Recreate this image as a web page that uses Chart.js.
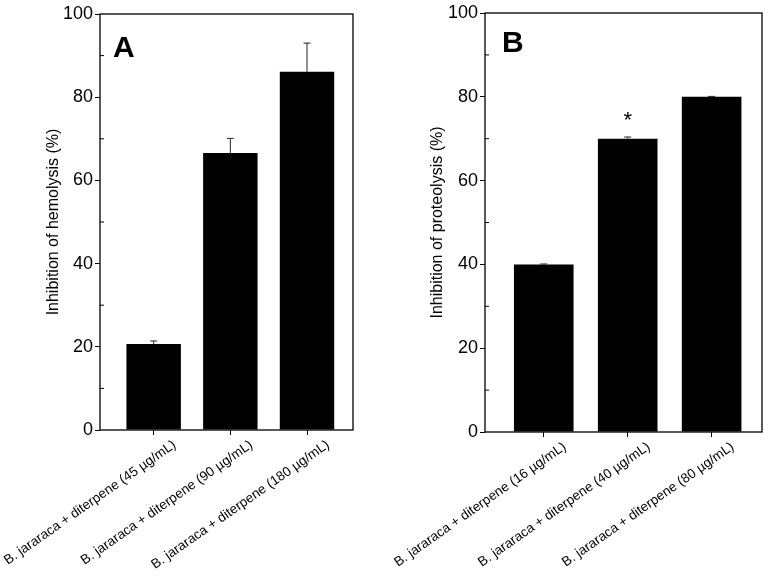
<html>
<head>
<meta charset="UTF-8">
<title>Inhibition of hemolysis and proteolysis</title>
<script src="https://cdn.jsdelivr.net/npm/chart.js"></script>
<style>
  body { margin: 0; background: #fff; }
  #wrap { position: relative; width: 768px; height: 578px; }
  canvas { position: absolute; top: 0; }
</style>
</head>
<body>
<div id="wrap">
  <canvas id="chartA" width="384" height="578" style="left:0px"></canvas>
  <canvas id="chartB" width="404" height="578" style="left:364px"></canvas>
</div>

<script>
// bar positions on the x axis
const xPos = [1, 2, 3];

// panel A - hemolysis
const labelsA = [
  'B. jararaca + diterpene (45 µg/mL)',
  'B. jararaca + diterpene (90 µg/mL)',
  'B. jararaca + diterpene (180 µg/mL)'
];
const hemolysis = [20.7, 66.6, 86.1];
const hemolysisErr = [0.7, 3.5, 6.9];

// panel B - proteolysis
const labelsB = [
  'B. jararaca + diterpene (16 µg/mL)',
  'B. jararaca + diterpene (40 µg/mL)',
  'B. jararaca + diterpene (80 µg/mL)'
];
const proteolysis = [40.0, 70.0, 80.0];
const proteolysisErr = [0.1, 0.4, 0.1];
const marksB = ['', '*', ''];

// y axis ticks
const yMajor = [0, 20, 40, 60, 80, 100];
const yMinor = [10, 30, 50, 70, 90];

const FONT = "'Liberation Sans', Arial, sans-serif";
Chart.defaults.font.family = FONT;
Chart.defaults.color = '#000';

// frame, minor ticks, error bars, significance marks and panel letter
function panelPlugin(p) {
  return {
    id: 'panel' + p.letter,
    afterDatasetsDraw(chart) {
      const ctx = chart.ctx;
      const area = chart.chartArea;
      const ys = chart.scales.y;
      const meta = chart.getDatasetMeta(0);
      ctx.save();

      // error bars (upper whisker only)
      ctx.strokeStyle = '#222';
      ctx.lineWidth = 1;
      meta.data.forEach((bar, i) => {
        const top = ys.getPixelForValue(p.values[i] + p.errors[i]);
        const base = ys.getPixelForValue(p.values[i]);
        ctx.beginPath();
        ctx.moveTo(bar.x, base);
        ctx.lineTo(bar.x, top);
        ctx.moveTo(bar.x - 3.5, top);
        ctx.lineTo(bar.x + 3.5, top);
        ctx.stroke();
      });

      // significance marks
      if (p.marks) {
        ctx.fillStyle = '#000';
        ctx.font = '22px ' + FONT;
        ctx.textAlign = 'center';
        ctx.textBaseline = 'alphabetic';
        meta.data.forEach((bar, i) => {
          if (!p.marks[i]) return;
          const top = ys.getPixelForValue(p.values[i] + p.errors[i]);
          ctx.fillText(p.marks[i], bar.x, top - 10);
        });
      }

      // frame
      ctx.strokeStyle = '#000';
      ctx.lineWidth = 1.3;
      ctx.strokeRect(area.left, area.top, area.right - area.left, area.bottom - area.top);

      // minor ticks inside
      ctx.lineWidth = 1;
      ctx.beginPath();
      yMinor.forEach(v => {
        const y = ys.getPixelForValue(v);
        ctx.moveTo(area.left, y);
        ctx.lineTo(area.left + 4, y);
      });
      ctx.stroke();

      // panel letter
      ctx.fillStyle = '#000';
      ctx.font = 'bold 30px ' + FONT;
      ctx.textAlign = 'left';
      ctx.textBaseline = 'alphabetic';
      ctx.fillText(p.letter, area.left + p.letterDx, area.top + p.letterDy);
      ctx.restore();
    }
  };
}

function makePanel(id, p) {
  const ctx = document.getElementById(id).getContext('2d');
  return new Chart(ctx, {
    type: 'bar',
    data: {
      datasets: [{
        data: xPos.map((x, i) => ({ x: x, y: p.values[i] })),
        backgroundColor: '#000',
        borderWidth: 0,
        barPercentage: 0.71,
        categoryPercentage: 1
      }]
    },
    options: {
      responsive: false,
      animation: false,
      devicePixelRatio: 1,
      layout: { padding: { left: p.padLeft, right: p.padRight, top: p.padTop, bottom: 0 } },
      plugins: { legend: { display: false }, tooltip: { enabled: false } },
      scales: {
        x: {
          type: 'linear',
          min: 0.3,
          max: 3.6,
          offset: false,
          afterBuildTicks: s => { s.ticks = xPos.map(v => ({ value: v })); },
          ticks: {
            callback: (v, i) => p.labels[i],
            autoSkip: false,
            minRotation: 35,
            maxRotation: 35,
            labelOffset: p.labelOffset,
            padding: 2,
            font: { size: 13.5 },
            color: '#000'
          },
          grid: { offset: false, drawOnChartArea: false, tickLength: 5, color: '#000' },
          border: { display: false },
          afterFit: s => { s.height = p.xHeight; s.paddingLeft = 0; s.paddingRight = 0; }
        },
        y: {
          min: 0,
          max: 100,
          afterBuildTicks: s => { s.ticks = yMajor.map(v => ({ value: v })); },
          ticks: { font: { size: 18 }, color: '#000', padding: 2 },
          grid: { drawOnChartArea: false, tickLength: 5, color: '#000' },
          border: { display: false },
          title: {
            display: true,
            text: p.yTitle,
            font: { size: 16 },
            color: '#000',
            padding: { top: 4, bottom: 0 }
          },
          afterFit: s => { s.width = p.yWidth; s.paddingTop = 0; s.paddingBottom = 0; }
        }
      }
    },
    plugins: [panelPlugin(p)]
  });
}

makePanel('chartA', {
  letter: 'A', letterDx: 13, letterDy: 43,
  labels: labelsA, values: hemolysis, errors: hemolysisErr,
  yTitle: 'Inhibition of hemolysis (%)',
  padLeft: 40, padRight: 31, padTop: 14, yWidth: 60, xHeight: 148, labelOffset: 21
});

makePanel('chartB', {
  letter: 'B', letterDx: 17, letterDy: 39,
  labels: labelsB, values: proteolysis, errors: proteolysisErr, marks: marksB,
  yTitle: 'Inhibition of proteolysis (%)',
  padLeft: 60, padRight: 6, padTop: 13, yWidth: 61, xHeight: 146, labelOffset: 21
});
</script>
</body>
</html>
